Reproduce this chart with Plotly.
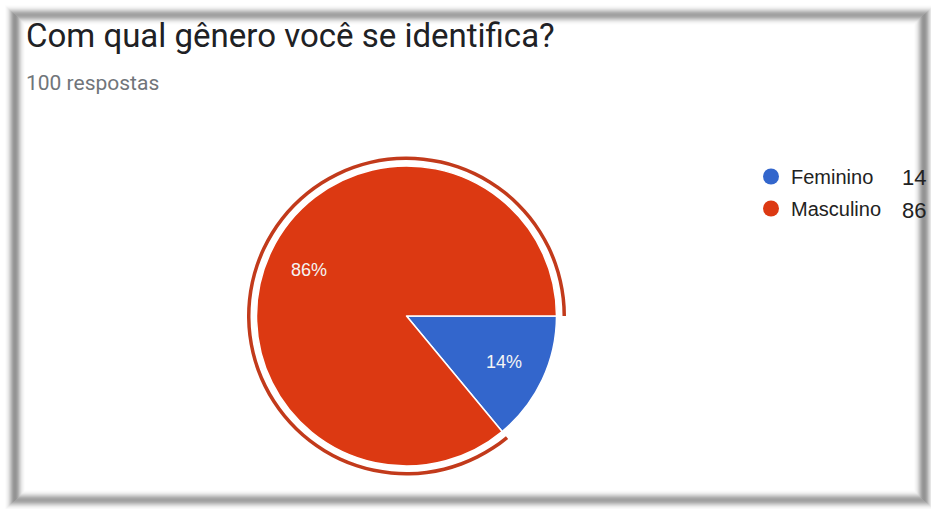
import math
import plotly.graph_objects as go

# Survey answers
categories = ["Feminino", "Masculino"]
counts = [14, 86]
colors = ["#3366cc", "#dc3912"]
highlight_color = "#c23a1b"
title_text = "Com qual gênero você se identifica?"
subtitle_text = f"{sum(counts)} respostas"

W, H = 931, 509


def px_x(x):
    return x / W


def px_y(y):
    return 1 - y / H


# Pie geometry (pixels)
cx, cy, r = 406.5, 316, 150
ring_in, ring_out = 156, 159.5
start_deg = 0.0        # first slice starts at 3 o'clock, going clockwise
label_radius = 0.72    # slice labels sit at this fraction of the radius

fig = go.Figure()

# Main pie
fig.add_trace(go.Pie(
    labels=categories, values=counts, sort=False,
    direction="clockwise", rotation=90 + start_deg,
    marker=dict(colors=colors, line=dict(color="white", width=1.5)),
    textinfo="none",
    domain=dict(x=[px_x(cx - r), px_x(cx + r)], y=[px_y(cy + r), px_y(cy - r)]),
    showlegend=False, hoverinfo="label+value+percent",
))

# Highlight ring around the selected slice (Masculino)
fig.add_trace(go.Pie(
    labels=categories, values=counts, sort=False,
    direction="clockwise", rotation=90 + start_deg, hole=ring_in / ring_out,
    marker=dict(colors=["rgba(0,0,0,0)", highlight_color], line=dict(width=0)),
    textinfo="none", hoverinfo="skip",
    domain=dict(x=[px_x(cx - ring_out), px_x(cx + ring_out)],
                y=[px_y(cy + ring_out), px_y(cy - ring_out)]),
    showlegend=False,
))

# Legend entries with round markers
for cat, col in zip(categories, colors):
    fig.add_trace(go.Scatter(
        x=[None], y=[None], mode="markers", name=cat, legendgroup=cat,
        marker=dict(size=16, color=col, symbol="circle"),
    ))

annotations = [
    dict(text=title_text, x=px_x(24), y=px_y(35), xref="paper", yref="paper",
         xanchor="left", yanchor="middle", showarrow=False,
         font=dict(family="Roboto", size=33, color="#202124")),
    dict(text=subtitle_text, x=px_x(24), y=px_y(83), xref="paper", yref="paper",
         xanchor="left", yanchor="middle", showarrow=False,
         font=dict(family="Roboto", size=21, color="#70757a")),
]

# Percentage labels placed along each slice's middle angle
total = sum(counts)
acc = 0.0
for v in counts:
    mid = math.radians(start_deg + (acc + v / 2) / total * 360)
    acc += v
    lx = cx + label_radius * r * math.cos(mid)
    ly = cy + label_radius * r * math.sin(mid)
    annotations.append(dict(
        text=f"{round(100 * v / total)}%", x=px_x(lx), y=px_y(ly),
        xref="paper", yref="paper", xanchor="center", yanchor="middle",
        showarrow=False, font=dict(family="Arial", size=18, color="#f4f4f4"),
    ))

# Counts next to the legend entries
for i, v in enumerate(counts):
    annotations.append(dict(
        text=str(v), x=px_x(900), y=px_y(178 + 32 * i), xref="paper", yref="paper",
        xanchor="left", yanchor="middle", showarrow=False,
        font=dict(family="Arial", size=22, color="#222222"),
    ))

# Soft grey card shadow
shapes = []
for d in range(-9, 10):
    a = 0.75 * math.exp(-(d / 5.0) ** 2)
    shapes.append(dict(
        type="rect", xref="paper", yref="paper",
        x0=px_x(15 + d), x1=px_x(924 - d), y0=px_y(500 - d), y1=px_y(15 + d),
        line=dict(color=f"rgba(100,100,100,{a:.3f})", width=1.2),
        fillcolor="rgba(0,0,0,0)", layer="above",
    ))

fig.update_layout(
    width=W, height=H,
    margin=dict(l=0, r=0, t=0, b=0),
    paper_bgcolor="white", plot_bgcolor="white",
    xaxis=dict(visible=False), yaxis=dict(visible=False),
    showlegend=True,
    legend=dict(
        x=px_x(751), y=px_y(157), xanchor="left", yanchor="top",
        font=dict(family="Arial", size=20, color="#222222"),
        tracegroupgap=3, bgcolor="rgba(0,0,0,0)",
    ),
    annotations=annotations,
    shapes=shapes,
)

fig.write_html("out.html")
